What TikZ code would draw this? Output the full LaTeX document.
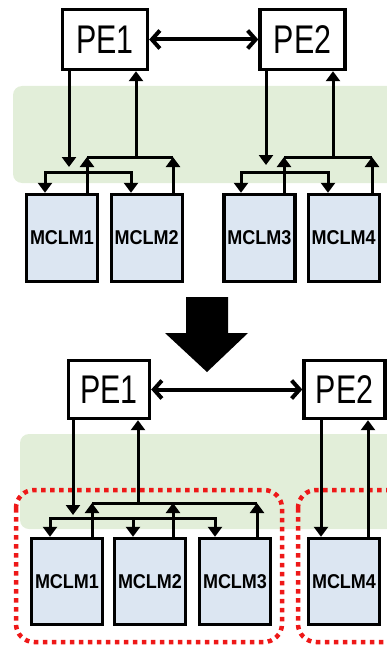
\documentclass[tikz,border=0pt]{standalone}
\usepackage{fontspec}
\usepackage{graphicx}
\setmainfont{Liberation Sans}
\usetikzlibrary{arrows.meta}
\definecolor{bandgreen}{RGB}{226,238,217}
\definecolor{memblue}{RGB}{220,230,242}
\definecolor{groupred}{RGB}{238,24,24}

\newcommand{\petext}[1]{{\fontsize{40}{40}\selectfont\scalebox{0.76}[1]{#1}}}
\newcommand{\memtext}[1]{{\fontsize{20}{20}\selectfont\bfseries\scalebox{0.9}[1]{#1}}}

\begin{document}
\begin{tikzpicture}[x=1pt,y=-1pt,
  pebox/.style={draw,line width=3.4pt,fill=white,inner sep=0pt,
    minimum width=85pt,minimum height=60pt},
  pebox2/.style={pebox,minimum width=81pt,minimum height=58pt},
  membox/.style={draw,line width=3.4pt,fill=memblue,inner sep=0pt,
    minimum width=71pt,minimum height=87pt},
  band/.style={fill=bandgreen,rounded corners=9pt},
  group/.style={draw=groupred,line width=4.5pt,dash pattern=on 4.5pt off 4.5pt,
    rounded corners=18pt},
  link/.style={line width=3pt},
  arr/.style={link,-{Triangle[width=14pt,length=10pt]}},
  barr/.style={link,{Triangle[width=14pt,length=10pt]}-{Triangle[width=14pt,length=10pt]}},
  peer/.style={line width=4pt,{Straight Barb[width=18pt,length=8pt]}-{Straight Barb[width=18pt,length=8pt]}}
]
\useasboundingbox (0,0) rectangle (387,650);
\clip (0,0) rectangle (387,650);

% ---------- before: two PEs, two memories each ----------
\fill[band] (13,86) rectangle (400,183);

\node[pebox] (pe1) at (105,39.5) {\petext{PE1}};
\node[pebox] (pe2) at (302.5,39.5) {\petext{PE2}};
\draw[peer] (pe1.east) -- (pe2.west);

\node[membox] (m1) at (62,238) {\memtext{MCLM1}};
\node[membox] (m2) at (146.7,238) {\memtext{MCLM2}};
\node[membox] (m3) at (259.3,238) {\memtext{MCLM3}};
\node[membox] (m4) at (343.7,238) {\memtext{MCLM4}};

% PE1 side
\coordinate (a1) at (69,167);
\draw[arr] (69,0 |- pe1.south) -- (a1);
\draw[link] (87,157) -- (173,157);
\draw[arr] (136,157) -- (136,0 |- pe1.south);
\draw[barr] (45,0 |- m1.north) -- (45,172) -- (131,172) -- (131,0 |- m2.north);
\draw[arr] (87,0 |- m1.north) -- (87,157);
\draw[arr] (173,0 |- m2.north) -- (173,157);

% PE2 side
\coordinate (a2) at (266,165);
\draw[arr] (266,0 |- pe2.south) -- (a2);
\draw[link] (284,157) -- (372,157);
\draw[arr] (333,157) -- (333,0 |- pe2.south);
\draw[barr] (241,0 |- m3.north) -- (241,172) -- (328,172) -- (328,0 |- m4.north);
\draw[arr] (284,0 |- m3.north) -- (284,157);
\draw[arr] (372,0 |- m4.north) -- (372,157);

% ---------- transition ----------
\fill (186,297) -- (228,297) -- (228,333) -- (248,333) -- (207,372)
  -- (165,333) -- (186,333) -- cycle;

% ---------- after: PE1 serves three memories ----------
\fill[band] (20,434) rectangle (400,529);
\draw[group] (16,490) rectangle (282,642);
\draw[group] (298,490) rectangle (420,642);

\node[pebox2] (pe1b) at (109,389.5) {\petext{PE1}};
\node[pebox2] (pe2b) at (344.5,389.5) {\petext{PE2}};
\draw[peer] (pe1b.east) -- (pe2b.west);

\node[membox,minimum height=86pt] (n1) at (67,581.5) {\memtext{MCLM1}};
\node[membox,minimum height=86pt] (n2) at (150,581.5) {\memtext{MCLM2}};
\node[membox,minimum height=86pt] (n3) at (235,581.5) {\memtext{MCLM3}};
\node[membox,minimum height=86pt] (n4) at (344,581.5) {\memtext{MCLM4}};

\coordinate (b1) at (73,515);
\draw[arr] (73,0 |- pe1b.south) -- (b1);
\draw[link] (92,503) -- (257,503);
\draw[arr] (138,503) -- (138,0 |- pe1b.south);
\draw[barr] (50,0 |- n1.north) -- (50,518) -- (215,518) -- (215,0 |- n3.north);
\draw[arr] (133,518) -- (133,0 |- n2.north);
\draw[arr] (92,0 |- n1.north) -- (92,503);
\draw[arr] (173,0 |- n2.north) -- (173,503);
\draw[arr] (257,0 |- n3.north) -- (257,503);

\draw[arr] (321,0 |- pe2b.south) -- (321,0 |- n4.north);
\draw[arr] (368,0 |- n4.north) -- (368,0 |- pe2b.south);
\end{tikzpicture}
\end{document}
